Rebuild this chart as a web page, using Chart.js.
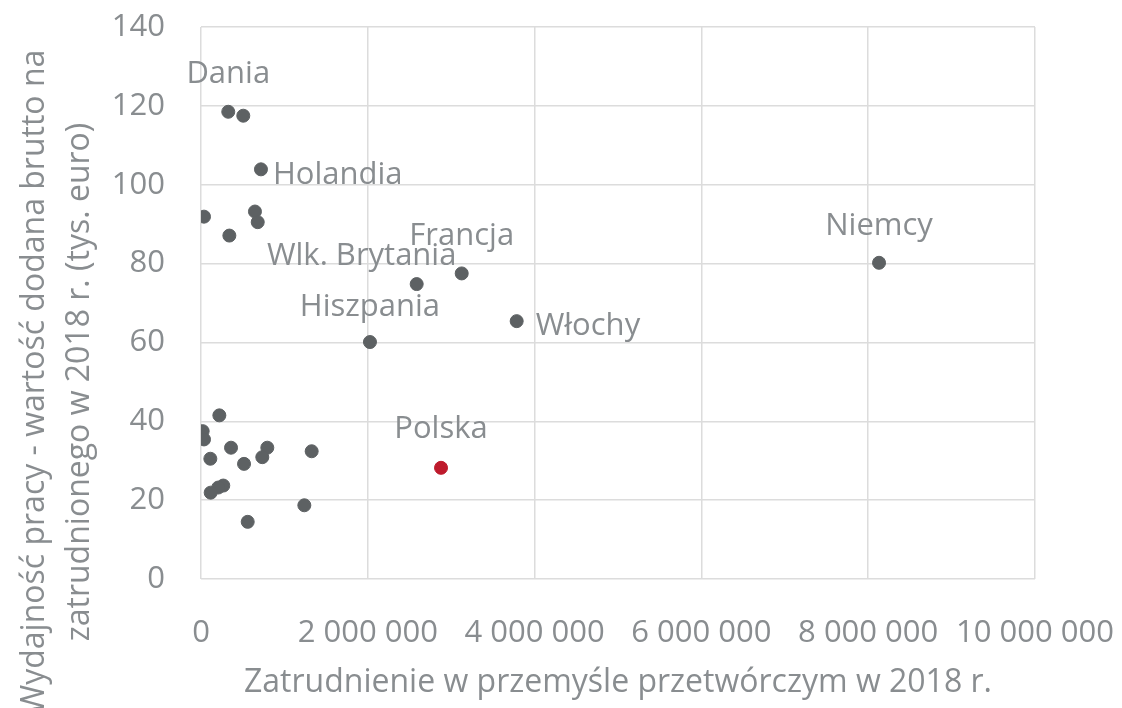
<!DOCTYPE html>
<html>
<head>
<meta charset="utf-8">
<script src="https://cdn.jsdelivr.net/npm/chart.js@4/dist/chart.umd.min.js"></script>
<style>
  body { margin: 0; background: #fff; }
</style>
</head>
<body>
<canvas id="chart" width="1122" height="708"></canvas>
<script>
// kraje UE – tylko część ma etykiety na wykresie
const countries = [
  'Dania', '', 'Holandia', '', '', '', '',
  'Wlk. Brytania', 'Francja', 'Niemcy', 'Włochy', 'Hiszpania', 'Polska',
  '', '', '', '', '', '', '', '', '', '', '', '', '', ''
];
// zatrudnienie w przemyśle przetwórczym (osoby)
const employment = [
  327000, 507000, 719000, 647000, 680000, 36000, 340000,
  2586000, 3126000, 8130000, 3785000, 2026000, 2878000,
  220000, 20000, 36000, 360000, 795000, 735000, 112000, 516000,
  1327000, 267000, 207000, 116000, 1239000, 560000
];
// wydajność pracy (tys. euro na zatrudnionego)
const productivity = [
  118.5, 117.5, 103.9, 93.2, 90.5, 91.9, 87.1,
  74.8, 77.5, 80.2, 65.4, 60.1, 28.2,
  41.5, 37.5, 35.4, 33.3, 33.3, 30.9, 30.5, 29.2,
  32.4, 23.7, 23.2, 21.9, 18.7, 14.5
];
const xTicks = [0, 2000000, 4000000, 6000000, 8000000, 10000000];
const yTicks = [0, 20, 40, 60, 80, 100, 120, 140];

const grey = '#898d90';
const dotColor = '#5d6163';
const highlight = '#be1a2c';
const font = '"Open Sans", sans-serif';

// położenie etykiet względem punktu
const labelPlace = {
  'Dania': { dx: 0, dy: -29, align: 'center' },
  'Holandia': { dx: 12, dy: 15, align: 'left' },
  'Wlk. Brytania': { dx: -55, dy: -19, align: 'center' },
  'Francja': { dx: 0, dy: -28, align: 'center' },
  'Niemcy': { dx: 0, dy: -28, align: 'center' },
  'Włochy': { dx: 19, dy: 14, align: 'left' },
  'Hiszpania': { dx: 0, dy: -26, align: 'center' },
  'Polska': { dx: 0, dy: -30, align: 'center' }
};

const points = employment.map((x, i) => ({ x: x, y: productivity[i] }));
const colors = countries.map(c => c === 'Polska' ? highlight : dotColor);

const fmt = v => String(v).replace(/\B(?=(\d{3})+(?!\d))/g, ' ');

const pointLabels = {
  id: 'pointLabels',
  afterDatasetsDraw(chart) {
    const ctx = chart.ctx;
    const meta = chart.getDatasetMeta(0);
    ctx.save();
    ctx.font = '31px ' + font;
    ctx.fillStyle = grey;
    ctx.textBaseline = 'alphabetic';
    meta.data.forEach((pt, i) => {
      const name = countries[i];
      const place = labelPlace[name];
      if (!name || !place) return;
      ctx.textAlign = place.align;
      ctx.fillText(name, pt.x + place.dx, pt.y + place.dy);
    });
    ctx.restore();
  }
};

const yTitle = {
  id: 'yTitle',
  afterDraw(chart) {
    const ctx = chart.ctx;
    ctx.save();
    ctx.translate(0, 382);
    ctx.rotate(-Math.PI / 2);
    ctx.font = '32px ' + font;
    ctx.fillStyle = grey;
    ctx.textAlign = 'center';
    ctx.textBaseline = 'middle';
    ctx.fillText('Wydajność pracy - wartość dodana brutto na', 0, 35);
    ctx.fillText('zatrudnionego w 2018 r. (tys. euro)', 0, 80);
    ctx.restore();
  }
};

new Chart(document.getElementById('chart'), {
  type: 'scatter',
  data: {
    datasets: [{
      data: points,
      backgroundColor: colors,
      borderColor: colors,
      pointRadius: 6.5,
      pointHoverRadius: 6.5
    }]
  },
  options: {
    responsive: false,
    animation: false,
    layout: { padding: { top: 27, right: 87, bottom: 0, left: 0 } },
    plugins: { legend: { display: false }, tooltip: { enabled: false } },
    scales: {
      x: {
        type: 'linear',
        min: 0,
        max: 10000000,
        afterBuildTicks: scale => { scale.ticks = xTicks.map(v => ({ value: v })); },
        afterFit: scale => {
          scale.height = 129;
          scale.paddingLeft = 0;
          scale.paddingRight = 0;
        },
        grid: { color: '#dcdcdc', lineWidth: 1.5, drawTicks: false },
        border: { display: false },
        ticks: {
          padding: 36,
          color: grey,
          maxRotation: 0,
          font: { family: font, size: 31 },
          callback: v => fmt(v)
        },
        title: {
          display: true,
          text: 'Zatrudnienie w przemyśle przetwórczym w 2018 r.',
          color: grey,
          font: { family: font, size: 32 },
          padding: { top: 0, bottom: 6 }
        }
      },
      y: {
        min: 0,
        max: 140,
        afterBuildTicks: scale => { scale.ticks = yTicks.map(v => ({ value: v })); },
        afterFit: scale => {
          scale.width = 201;
          scale.paddingTop = 0;
          scale.paddingBottom = 0;
        },
        grid: { color: '#dcdcdc', lineWidth: 1.5, drawTicks: false },
        border: { display: false },
        ticks: {
          padding: 36,
          color: grey,
          font: { family: font, size: 31 }
        }
      }
    }
  },
  plugins: [pointLabels, yTitle]
});
</script>
</body>
</html>
